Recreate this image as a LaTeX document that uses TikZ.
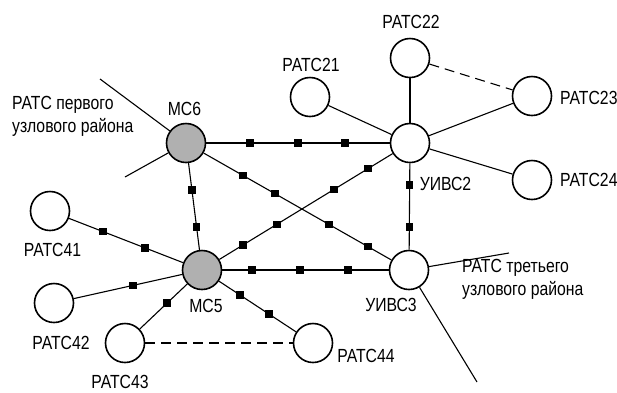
\documentclass[tikz,border=0pt]{standalone}
\usepackage{fontspec}
\setmainfont{Liberation Sans}[FakeStretch=0.83]
\usetikzlibrary{calc}
\definecolor{msgray}{RGB}{176,176,176}
\begin{document}
\begin{tikzpicture}[x=1pt,y=-1pt,
  st/.style={circle,draw,line width=1.6pt,minimum size=39pt,inner sep=0pt,fill=white},
  ms/.style={st,fill=msgray},
  ln/.style={line width=1.1pt},
  dl/.style={ln,dash pattern=on 10pt off 6pt},
  mk/.style={rectangle,fill=black,minimum size=7.5pt,inner sep=0pt},
  lb/.style={font=\fontsize{19}{23}\selectfont,inner sep=0pt}]
\useasboundingbox (0,0) rectangle (617,392);
% stations
\node[ms] (mc6) at (186,143) {};
\node[ms] (mc5) at (202,270) {};
\node[st] (u2) at (410,143) {};
\node[st] (u3) at (409,270) {};
\node[st] (p21) at (310,97) {};
\node[st] (p22) at (410,58) {};
\node[st] (p23) at (532,96) {};
\node[st] (p24) at (532,180) {};
\node[st] (p41) at (50,211) {};
\node[st] (p42) at (54,303) {};
\node[st] (p43) at (125,343) {};
\node[st] (p44) at (313,343) {};
\coordinate (e1) at (100,79);
\coordinate (e2) at (125,177);
\coordinate (e3) at (509,253);
\coordinate (e4) at (477,382);
% connectors
\draw[ln] (mc6) -- (u2);
\draw[ln] (mc5) -- (u3);
\draw[ln] (mc6) -- (u3);
\draw[ln] (mc5) -- (u2);
\draw[ln] (mc6) -- (mc5);
\draw[ln] (u2) -- (u3);
\draw[ln] (p41) -- (mc5);
\draw[ln] (p42) -- (mc5);
\draw[ln] (p43) -- (mc5);
\draw[ln] (mc5) -- (p44);
\draw[ln] (p21) -- (u2);
\draw[ln] (p22) -- (u2);
\draw[ln] (p23) -- (u2);
\draw[ln] (p24) -- (u2);
\draw[ln] (e1) -- (mc6);
\draw[ln] (e2) -- (mc6);
\draw[ln] (e3) -- (u3);
\draw[ln] (e4) -- (u3);
\draw[dl] (p43) -- (p44);
\draw[dl] (p22) -- (p23);
% markers
\foreach \t in {0.286,0.5,0.71} \node[mk] at ($(mc6)!\t!(u2)$) {};
\foreach \t in {0.242,0.473,0.705} \node[mk] at ($(mc5)!\t!(u3)$) {};
\foreach \t in {0.256,0.399,0.641,0.816} \node[mk] at ($(mc6)!\t!(u3)$) {};
\foreach \t in {0.197,0.36,0.635,0.798} \node[mk] at ($(mc5)!\t!(u2)$) {};
\foreach \t in {0.37,0.661} \node[mk] at ($(mc6)!\t!(mc5)$) {};
\foreach \t in {0.331,0.661} \node[mk] at ($(u2)!\t!(u3)$) {};
\foreach \t in {0.349,0.625} \node[mk] at ($(p41)!\t!(mc5)$) {};
\node[mk] at ($(p42)!0.534!(mc5)$) {};
\node[mk] at ($(p43)!0.545!(mc5)$) {};
\foreach \t in {0.342,0.604} \node[mk] at ($(mc5)!\t!(p44)$) {};
% labels
\node[lb] (lmc6) at (184.5,109) {МС6};
\node[lb] (lmc5) at (206,306) {МС5};
\node[lb] (lu2) at (445.5,183.5) {УИВС2};
\node[lb] (lu3) at (391,304.5) {УИВС3};
\node[lb] (l21) at (311,65) {РАТС21};
\node[lb] (l22) at (411,21.5) {РАТС22};
\node[lb,anchor=west] (l23) at (560,97.5) {РАТС23};
\node[lb,anchor=west] (l24) at (560,180) {РАТС24};
\node[lb] (l41) at (52.5,250) {РАТС41};
\node[lb] (l42) at (61,342.5) {РАТС42};
\node[lb] (l43) at (120,381.5) {РАТС43};
\node[lb] (l44) at (366,356) {РАТС44};
\node[lb,anchor=base west,align=left] (lr1) at (12,132) {РАТС первого\\узлового района};
\node[lb,anchor=base west,align=left] (lr3) at (462,295) {РАТС третьего\\узлового района};
\end{tikzpicture}
\end{document}
